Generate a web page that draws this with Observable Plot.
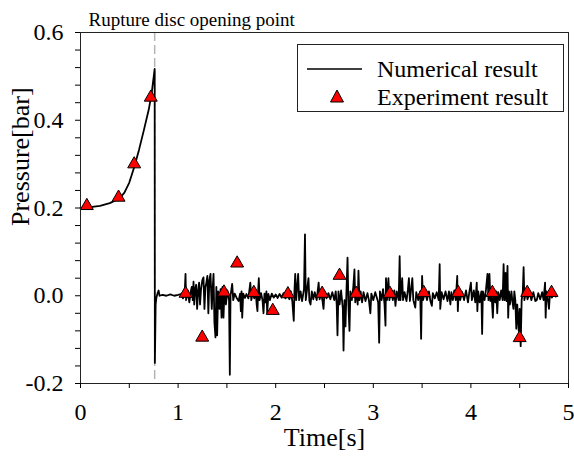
<!DOCTYPE html>
<html><head><meta charset="utf-8">
<script src="https://cdn.jsdelivr.net/npm/d3@7"></script>
<script src="https://cdn.jsdelivr.net/npm/@observablehq/plot@0.6"></script>
<style>
body{margin:0;background:#fff;font-family:"Liberation Serif","Times New Roman",serif;}
#wrap{position:relative;width:574px;height:456px;overflow:hidden;}
#wrap svg text{font-family:"Liberation Serif","Times New Roman",serif;}
#legend{position:absolute;left:297px;top:44px;width:265px;height:66px;border:1px solid #222;background:#fff;font-size:24px;color:#000;}
#legend .row{position:absolute;left:0;height:28px;line-height:28px;}
#legend .lab{position:absolute;left:79px;white-space:nowrap;}
</style></head>
<body>
<div id="wrap"></div>
<script>
// ---- data ----
const xTicks = [0, 1, 2, 3, 4, 5];
const xTickLabels = ["0", "1", "2", "3", "4", "5"];
const xMinorTicks = [0.5, 1.5, 2.5, 3.5, 4.5];
const yTicks = [-0.2, 0, 0.2, 0.4, 0.6];
const yTickLabels = ["-0.2", "0.0", "0.2", "0.4", "0.6"];
const yMinorTicks = [-0.16, -0.12, -0.08, -0.04, 0.04, 0.08, 0.12, 0.16, 0.24, 0.28, 0.32, 0.36, 0.44, 0.48, 0.52, 0.56];
const ruptureTime = 0.76;
const annotationText = "Rupture disc opening point";
const seriesNames = ["Numerical result", "Experiment result"];

// numerical result, pressurisation before rupture [time, pressure]
const numericalCurve = [
  [0, 0.200], [0.1, 0.202], [0.2, 0.205], [0.3, 0.211], [0.4, 0.222], [0.45, 0.235],
  [0.5, 0.258], [0.55, 0.293], [0.6, 0.333], [0.65, 0.378], [0.7, 0.425], [0.73, 0.463], [0.76, 0.517]
];
// numerical result after rupture [time, pressure]
const numericalAfter = [
  [0.762,-0.153],[0.77,-0.02],[0.778,-0.004],[0.79,0.006],[0.80,0.012],[0.81,0.0],[0.84,0.002],[0.88,0.0],[0.92,0.003],[0.96,0.0],
  [1.0,0.002],[1.03,0.004],[1.05,-0.006],[1.068,0.008],[1.076,0.05],[1.082,-0.01],[1.10,0.012],[1.115,-0.015],[1.13,0.01],[1.14,0.02],
  [1.15,-0.01],[1.158,0.032],[1.165,-0.02],[1.175,0.015],[1.185,0.025],[1.195,-0.03],[1.205,0.01],[1.215,0.03],[1.225,-0.02],[1.235,0.015],
  [1.248,0.035],[1.26,0.042],[1.27,-0.03],[1.28,0.02],[1.29,0.03],[1.30,0.045],[1.31,-0.04],[1.32,0.035],[1.332,0.05],[1.345,-0.03],
  [1.355,0.02],[1.363,0.05],[1.372,-0.06],[1.383,-0.095],[1.392,0.02],[1.40,-0.09],[1.41,0.01],[1.425,-0.03],[1.435,0.015],[1.445,-0.05],
  [1.455,0.02],[1.465,-0.05],[1.475,0.01],[1.49,-0.02],[1.505,0.012],[1.522,-0.01],[1.53,-0.18],[1.537,0.0],[1.554,0.027],[1.565,-0.01],
  [1.58,0.005],[1.60,-0.005],[1.62,-0.012],[1.635,0.005],[1.643,-0.035],[1.65,0.01],[1.657,-0.05],[1.667,0.005],[1.685,-0.005],[1.70,0.004],
  [1.72,-0.006],[1.74,0.03],[1.75,-0.01],[1.765,0.006],[1.78,-0.006],[1.795,0.01],[1.805,-0.02],[1.813,-0.035],[1.82,0.01],[1.827,0.04],
  [1.835,-0.01],[1.85,0.006],[1.865,-0.01],[1.875,-0.04],[1.885,0.005],[1.895,-0.015],[1.905,0.01],[1.913,-0.04],[1.925,0.004],[1.94,-0.01],
  [1.96,0.005],[1.98,-0.004],[2.0,0.003],[2.02,-0.005],[2.04,0.004],[2.06,-0.004],[2.08,0.006],[2.10,-0.006],[2.12,0.005],[2.14,-0.008],
  [2.155,0.01],[2.17,-0.012],[2.185,-0.057],[2.192,0.01],[2.20,0.05],[2.21,-0.01],[2.22,0.02],[2.23,0.05],[2.24,-0.01],[2.255,0.01],
  [2.27,-0.012],[2.29,0.015],[2.30,0.14],[2.308,-0.01],[2.32,0.012],[2.336,0.04],[2.345,-0.012],[2.357,-0.02],[2.37,0.01],[2.385,-0.008],
  [2.40,0.008],[2.42,-0.01],[2.44,0.03],[2.45,-0.008],[2.465,0.006],[2.48,-0.012],[2.49,-0.03],[2.50,0.01],[2.52,-0.006],[2.54,0.006],
  [2.56,-0.008],[2.58,0.008],[2.60,-0.01],[2.615,0.01],[2.625,-0.02],[2.633,-0.09],[2.643,0.01],[2.655,-0.02],[2.67,0.012],[2.688,-0.03],
  [2.695,-0.125],[2.705,-0.01],[2.715,-0.07],[2.725,0.01],[2.736,0.087],[2.745,-0.02],[2.756,-0.08],[2.765,0.01],[2.78,-0.01],[2.795,0.02],
  [2.807,0.06],[2.815,-0.015],[2.83,0.01],[2.84,-0.02],[2.848,0.057],[2.858,-0.01],[2.87,0.01],[2.885,-0.015],[2.90,0.008],[2.92,-0.012],
  [2.94,0.006],[2.955,-0.01],[2.97,-0.04],[2.98,0.005],[3.0,-0.01],[3.02,0.008],[3.05,-0.015],[3.06,-0.107],[3.068,0.01],[3.085,-0.01],
  [3.10,0.015],[3.115,-0.02],[3.125,-0.068],[3.13,0.04],[3.14,-0.01],[3.155,0.04],[3.165,-0.01],[3.18,0.01],[3.2,-0.01],[3.215,0.012],
  [3.227,-0.023],[3.24,0.01],[3.26,-0.01],[3.27,0.09],[3.278,-0.01],[3.296,0.04],[3.305,-0.01],[3.32,0.008],[3.34,-0.012],[3.355,0.015],
  [3.365,0.04],[3.375,-0.012],[3.39,0.02],[3.40,0.04],[3.41,-0.01],[3.43,-0.027],[3.44,0.008],[3.46,-0.01],[3.48,0.01],[3.49,-0.098],
  [3.50,0.045],[3.51,-0.01],[3.53,0.008],[3.55,-0.01],[3.57,0.01],[3.585,-0.012],[3.60,-0.023],[3.61,0.006],[3.63,-0.006],[3.65,0.008],
  [3.67,-0.01],[3.68,0.072],[3.686,-0.03],[3.70,0.008],[3.72,-0.008],[3.74,0.01],[3.76,-0.012],[3.775,0.01],[3.79,-0.02],[3.80,0.008],
  [3.815,-0.01],[3.83,0.012],[3.845,-0.01],[3.86,0.045],[3.866,-0.035],[3.875,0.01],[3.89,-0.01],[3.91,0.008],[3.93,-0.01],[3.95,0.012],
  [3.97,-0.015],[3.985,0.01],[4.0,0.03],[4.01,-0.01],[4.03,0.012],[4.045,-0.015],[4.06,0.03],[4.066,-0.035],[4.075,0.01],[4.09,-0.015],
  [4.107,0.01],[4.115,-0.087],[4.123,0.01],[4.14,-0.01],[4.155,0.015],[4.17,0.05],[4.18,-0.01],[4.19,0.05],[4.2,-0.012],[4.21,0.01],
  [4.225,-0.05],[4.235,0.01],[4.25,-0.015],[4.26,0.01],[4.27,-0.04],[4.28,0.008],[4.295,-0.01],[4.31,0.012],[4.325,-0.01],[4.335,0.072],
  [4.345,-0.01],[4.355,0.052],[4.365,-0.012],[4.375,0.068],[4.382,-0.05],[4.39,0.01],[4.40,-0.02],[4.415,0.01],[4.425,-0.012],[4.436,-0.03],
  [4.445,0.01],[4.455,-0.01],[4.465,-0.075],[4.475,-0.02],[4.49,-0.08],[4.50,-0.03],[4.51,-0.115],[4.52,-0.01],[4.532,0.01],[4.54,0.065],
  [4.548,-0.01],[4.565,0.01],[4.58,-0.008],[4.60,0.006],[4.62,-0.01],[4.64,0.008],[4.66,-0.012],[4.675,-0.01],[4.69,0.006],[4.71,-0.008],
  [4.73,0.008],[4.745,-0.01],[4.76,0.03],[4.766,-0.05],[4.775,0.01],[4.79,-0.01],[4.80,-0.03],[4.81,0.005],[4.83,-0.004],[4.85,0.004],
  [4.87,-0.002],[4.88,0.0]
];
// experiment result
const expTime = [0.065, 0.39, 0.55, 0.72, 1.076, 1.247, 1.47, 1.605, 1.776, 1.97, 2.125, 2.476, 2.654, 2.824, 3.17, 3.517, 3.87, 4.22, 4.50, 4.577, 4.826];
const expPressure = [0.205, 0.224, 0.30, 0.452, 0.005, -0.095, 0.008, 0.074, 0.007, -0.034, 0.004, 0.005, 0.046, 0.005, 0.005, 0.007, 0.007, 0.007, -0.096, 0.007, 0.007];

// ---- build ----
const numerical = numericalCurve.concat(numericalAfter).map(([t, p]) => ({t, p}));
const experiment = expTime.map((t, i) => ({t, p: expPressure[i]}));
const serif = "Liberation Serif, Times New Roman, serif";

const chart = Plot.plot({
  width: 574, height: 456,
  marginLeft: 80, marginRight: 6, marginTop: 32, marginBottom: 73,
  style: {fontFamily: serif, fontSize: "24px", color: "#000", background: "#fff", overflow: "visible"},
  x: {domain: [0, 5]},
  y: {domain: [-0.2, 0.6]},
  marks: [
    Plot.ruleX([ruptureTime], {stroke: "#b4b4b4", strokeWidth: 1.5, strokeDasharray: "9,4"}),
    Plot.line(numerical, {x: "t", y: "p", stroke: "#000", strokeWidth: 1.8}),
    Plot.dot(experiment, {x: "t", y: "p", symbol: "triangle", r: 4.8, fill: "#ff0000", stroke: "#000", strokeWidth: 1}),
    Plot.frame({stroke: "#222", strokeWidth: 1}),
    Plot.axisX(xTicks, {tickSize: 5, tickFormat: () => "", label: null}),
    Plot.axisX(xMinorTicks, {tickSize: 5, tickFormat: () => "", label: null}),
    Plot.axisY(yTicks, {tickSize: 5, tickFormat: () => "", label: null}),
    Plot.axisY(yMinorTicks, {tickSize: 5, tickFormat: () => "", label: null}),
    // tick labels
    Plot.text(xTicks, {x: d => d, frameAnchor: "bottom", dy: 29, text: d => xTickLabels[xTicks.indexOf(d)], lineAnchor: "middle", fontSize: 24, fontFamily: serif}),
    Plot.text(yTicks, {y: d => d, frameAnchor: "left", dx: -17, text: d => yTickLabels[yTicks.indexOf(d)], textAnchor: "end", lineAnchor: "middle", fontSize: 24, fontFamily: serif}),
    Plot.text(["Time[s]"], {frameAnchor: "bottom", dy: 54, fontSize: 26, lineAnchor: "middle", fontFamily: serif}),
    Plot.text(["Pressure[bar]"], {frameAnchor: "left", dx: -60, dy: 18, rotate: -90, fontSize: 26, lineAnchor: "middle", fontFamily: serif}),
    Plot.text([annotationText], {frameAnchor: "top-left", dx: 8, dy: -13, textAnchor: "start", lineAnchor: "middle", fontSize: 19, fontFamily: serif})
  ]
});
const wrap = document.getElementById("wrap");
wrap.appendChild(chart);

// legend (HTML overlay inside the frame)
const legend = document.createElement("div");
legend.id = "legend";
legend.innerHTML = `
  <div class="row" style="top:10px;width:100%">
    <svg width="70" height="28" style="position:absolute;left:9px;top:0"><line x1="0" x2="55" y1="14" y2="14" stroke="#000" stroke-width="1.6"/></svg>
    <span class="lab">${seriesNames[0]}</span>
  </div>
  <div class="row" style="top:38px;width:100%">
    <svg width="70" height="28" style="position:absolute;left:9px;top:0"><path d="M30,7 L36.5,19 L23.5,19 Z" fill="#ff0000" stroke="#000" stroke-width="1"/></svg>
    <span class="lab">${seriesNames[1]}</span>
  </div>`;
wrap.appendChild(legend);
</script>
</body></html>
